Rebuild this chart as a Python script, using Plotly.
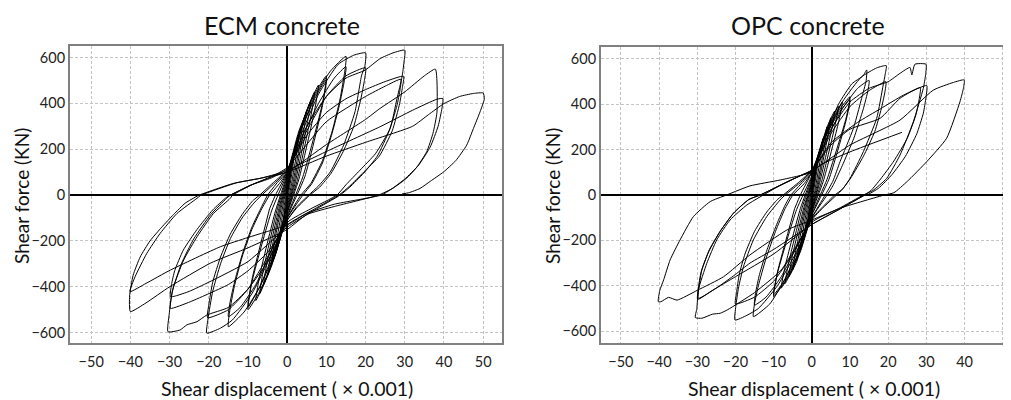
import plotly.graph_objects as go

# ---------------- ECM concrete (shear displacement x0.001, shear force kN) ----------------
ecm_small_x = [0, 0.5, 1, 0.6, 0.1, -0.4, -1, -0.6, -0.1,
               0.5, 1.2, 2, 1.5, 0.4, 0, -0.7, -2, -1.5, -0.4,
               0, 1, 2, 3, 2.4, 0.8, 0, -1, -2, -3, -2.4, -0.8,
               0, 1.5, 3, 4, 3.3, 1.2, 0, -1.5, -3, -4, -3.3, -1.2,
               0, 2, 4, 5, 4.2, 1.6, 0, -2, -4, -5, -4.2, -1.6,
               0, 2, 4, 6, 5.1, 2, 0, -2, -4, -6, -5.1, -2,
               0, 2.5, 5, 7, 6, 2.5, 0, -2.5, -5, -7, -6, -2.5,
               0, 3, 6, 8, 7, 3, 0, -3, -6, -8, -7, -3,
               0, 3, 7, 10, 9, 4, 0, -3, -7, -10, -9, -4,
               0, 3, 7, 10, 9, 4.5, 0, -3, -7, -10, -9, -4.5]
ecm_small_y = [0, 60, 120, 60, 0, -50, -110, -55, 0,
               50, 120, 200, 130, 10, -30, -90, -190, -120, -10,
               30, 110, 190, 260, 180, 20, -40, -110, -180, -250, -170, -20,
               40, 150, 250, 320, 230, 30, -50, -140, -230, -300, -210, -30,
               50, 190, 310, 370, 280, 40, -60, -180, -290, -350, -260, -40,
               60, 200, 320, 410, 310, 50, -70, -200, -310, -390, -290, -50,
               70, 240, 370, 450, 340, 60, -75, -230, -350, -430, -320, -60,
               80, 270, 410, 480, 370, 70, -80, -260, -390, -460, -350, -70,
               90, 280, 440, 520, 400, 80, -90, -260, -420, -500, -380, -70,
               95, 260, 420, 505, 390, 80, -95, -250, -400, -490, -370, -60]

ecm_15a_x = [-4.5, -3, 0, 3, 7, 11, 15, 14.7, 13.5, 11.5, 9, 6, 3.5, 0, -3, -7, -11, -15, -14.7, -13.5, -11.5, -9, -6.5, -4.5]
ecm_15a_y = [-60, 0, 100, 260, 430, 540, 605, 540, 420, 280, 150, 50, 0, -100, -230, -400, -510, -574, -510, -400, -270, -150, -60, 0]

ecm_15b_x = [-4.5, -2, 0, 4, 8, 12, 15, 14.6, 13.3, 11.3, 9, 6.3, 4, 0, -4, -8, -12, -15, -14.6, -13.3, -11.3, -9, -6.5, -5]
ecm_15b_y = [0, 50, 100, 260, 400, 510, 560, 500, 390, 260, 140, 50, 0, -100, -240, -390, -490, -530, -470, -370, -250, -140, -50, 0]

ecm_20a_x = [-5, -2.5, 0, 3, 8, 13, 17, 20, 19.8, 19, 17.3, 14.4, 11, 8, 5.5, 2.5, 0, -4, -9, -14, -17, -20.5, -20.2, -19, -17, -14.5, -11.5, -8.5, -6.5]
ecm_20a_y = [0, 55, 100, 240, 440, 570, 610, 620, 560, 523, 363, 218, 101, 40, 0, -50, -110, -260, -430, -545, -580, -602, -540, -420, -300, -190, -100, -35, 0]

ecm_20b_x = [-6.5, -3, 0, 5, 10, 15, 20, 19.7, 18.8, 17, 14.3, 11.2, 8.3, 5.8, 2.5, 0, -5, -10, -15, -20.3, -20, -19, -17, -14.5, -11.5, -8.8, -7]
ecm_20b_y = [0, 55, 105, 280, 430, 520, 555, 500, 420, 300, 190, 95, 35, 0, -55, -110, -270, -410, -500, -535, -480, -380, -270, -170, -85, -25, 0]

ecm_30a_x = [-7, -3.5, 0, 5, 10, 15, 19.9, 23.7, 27, 30, 29.8, 29.3, 28, 26.3, 22.5, 18.6, 15, 12.7, 6, 0, -5, -10, -15, -20.5, -23, -25.6, -27.3, -30.4, -30.1, -29.3, -27, -23.8, -19.5, -15.5, -14.5]
ecm_30a_y = [0, 55, 110, 300, 430, 510, 545, 595, 620, 632, 580, 515, 420, 292, 180, 109, 45, 0, -60, -120, -290, -410, -490, -523, -552, -566, -588, -596, -520, -420, -300, -190, -85, -15, 0]

ecm_30b_x = [-14.5, -9.4, -4, 0, 5, 10, 15, 20, 25, 29.7, 29.4, 28.7, 26.8, 23.5, 19.5, 16, 13.2, 7, 0, -5, -10, -15, -20, -24.7, -29.8, -29.6, -29, -26.4, -23, -18.8, -14.5, -14]
ecm_30b_y = [0, 43, 75, 115, 260, 360, 420, 460, 495, 518, 470, 400, 280, 170, 100, 40, 0, -60, -130, -250, -330, -390, -430, -465, -494, -450, -400, -283, -182, -80, -14, 0]

ecm_30c_x = [-14, -9, -4, 0, 10, 20, 25, 29, 28.8, 28, 26, 23, 19.5, 16, 13.5, 7, 0, -10, -20, -25, -28.5, -29.8, -29.5, -28.7, -26.5, -23, -19, -15.5, -14.5]
ecm_30c_y = [0, 45, 80, 120, 320, 430, 475, 505, 460, 390, 280, 170, 95, 35, 0, -65, -140, -290, -380, -420, -440, -443, -390, -330, -240, -150, -65, -10, 0]

ecm_40a_x = [-14.5, -9, -4, 0, 10, 20, 23.7, 30, 35, 37.8, 38.2, 37.2, 35.6, 33, 30.5, 27, 23.3, 12, 5, 0, -10, -19.6, -30, -36, -40, -40.2, -39.3, -37.5, -35, -32, -29, -26, -22.5]
ecm_40a_y = [0, 45, 80, 100, 220, 330, 378, 450, 520, 549, 360, 270, 189, 120, 74, 30, 0, -50, -85, -150, -230, -297, -400, -470, -508, -440, -350, -270, -200, -140, -85, -35, 0]

ecm_40b_x = [-22.5, -13.7, -6.9, -1, 10, 23.7, 32, 38.2, 39.7, 39.5, 38.5, 36.5, 33.5, 30, 26.5, 24, 12, 5, 0, -10, -17, -29.8, -36, -40.1, -38.8, -35.8, -32.4, -28.1, -23, -22]
ecm_40b_y = [0, 51, 73, 101, 190, 298, 370, 418, 421, 380, 300, 210, 130, 70, 25, 0, -40, -80, -130, -185, -225, -327, -385, -421, -356, -254, -167, -80, -14, 0]

ecm_50_x = [-22, -13, -6, 0, 10, 20, 32, 36, 40, 44, 47.5, 50, 50.3, 49.2, 47.5, 45.8, 43, 39.9, 36.5, 33.9, 31, 29.3]
ecm_50_y = [0, 53, 76, 100, 170, 230, 300, 350, 399, 430, 443, 445, 420, 363, 290, 218, 150, 101, 60, 29, 10, 5]

# ---------------- OPC concrete ----------------
opc_small_x = list(ecm_small_x)
opc_small_y = [0, 55, 110, 55, 0, -45, -100, -50, 0,
               45, 115, 190, 125, 10, -30, -85, -180, -115, -10,
               30, 105, 180, 250, 175, 20, -40, -105, -175, -240, -165, -20,
               40, 140, 235, 300, 215, 30, -50, -135, -220, -290, -205, -30,
               50, 180, 290, 340, 260, 40, -60, -170, -275, -330, -245, -40,
               55, 190, 300, 370, 280, 50, -65, -190, -295, -360, -270, -50,
               60, 220, 330, 390, 300, 55, -70, -215, -325, -390, -295, -55,
               70, 240, 350, 410, 320, 60, -75, -240, -355, -410, -315, -60,
               80, 250, 370, 433, 340, 70, -85, -250, -380, -448, -345, -65,
               85, 240, 360, 420, 330, 70, -90, -240, -370, -440, -340, -60]

opc_15a_x = [-4.5, -3, 0, 3, 7, 10.5, 13.4, 14.4, 14.2, 13.5, 10.9, 7.4, 5.5, 3.5, 0, -3, -7, -11, -15.3, -15, -14, -12, -9.5, -7, -5]
opc_15a_y = [-60, 0, 100, 240, 400, 490, 525, 551, 500, 455, 294, 147, 60, 0, -100, -220, -370, -480, -536, -480, -400, -280, -160, -60, 0]

opc_15b_x = [-5, -2, 0, 4, 8, 12, 15, 14.7, 13.5, 11, 8, 5.5, 4, 0, -4, -8, -12, -15, -14.7, -13.7, -11.7, -9.2, -7, -5.5]
opc_15b_y = [0, 50, 100, 250, 380, 470, 505, 460, 380, 250, 130, 40, 0, -100, -230, -360, -450, -485, -430, -350, -240, -130, -45, 0]

opc_20a_x = [-5.5, -2.5, 0, 3, 8, 13, 17, 19.5, 19.2, 18.7, 17, 13.5, 10, 8, 6, 3, 0, -4, -9, -14, -17, -20.1, -19.9, -19.2, -17.9, -15.3, -11.8, -8.3, -7]
opc_20a_y = [0, 55, 100, 230, 410, 520, 560, 570, 530, 485, 338, 191, 73, 25, 0, -50, -105, -250, -400, -500, -530, -551, -490, -410, -316, -198, -95, -22, 0]

opc_20b_x = [-7, -3, 0, 5, 10, 15, 19.4, 19.1, 18.2, 16.5, 13.5, 10.2, 8, 6.5, 3, 0, -5, -10, -15, -20, -19.7, -19, -17.5, -15, -11.8, -9, -7.5]
opc_20b_y = [0, 55, 105, 270, 390, 460, 499, 450, 380, 280, 170, 75, 25, 0, -55, -110, -260, -380, -450, -480, -430, -350, -260, -160, -75, -20, 0]

opc_30a_x = [-7.5, -3.5, 0, 5, 10, 15, 20, 23.1, 25.7, 26.2, 27, 29.9, 29.8, 29.2, 26.6, 23.1, 19.6, 16, 13.5, 7, 0, -8, -15, -22, -24, -26, -28.8, -30.5, -30.1, -29.7, -27.5, -24.9, -21.4, -17, -12.7]
opc_30a_y = [0, 55, 110, 290, 410, 470, 499, 536, 562, 529, 576, 576, 530, 470, 323, 176, 73, 20, 0, -60, -120, -330, -430, -505, -521, -525, -543, -540, -500, -418, -301, -198, -110, -44, 0]

opc_30b_x = [-12.7, -8, -3, 0, 5, 10, 17.9, 23.1, 28.4, 28.1, 27.2, 25, 21.5, 18, 15.5, 13.8, 7, 0, -10, -16.2, -20, -25, -29.7, -29.5, -28.8, -26.8, -24, -20.5, -16.5, -13.5]
opc_30b_y = [0, 45, 85, 110, 220, 290, 338, 426, 473, 420, 350, 250, 150, 70, 20, 0, -65, -130, -240, -300, -350, -410, -455, -400, -330, -240, -160, -80, -20, 0]

opc_30c_x = [-13.5, -8, -3, 0, 5, 12, 18, 24, 30.1, 29.9, 29.2, 27.5, 24.5, 21, 17.5, 15, 14, 7, 0, -10, -20, -26, -29.9, -29.7, -29, -27, -24, -20.5, -16.5, -13.5]
opc_30c_y = [0, 45, 85, 110, 230, 320, 380, 440, 482, 430, 360, 270, 170, 90, 30, 5, 0, -65, -130, -260, -360, -420, -460, -410, -340, -250, -160, -80, -20, 0]

opc_40_x = [-13.5, -8, -3, 0, 10, 23.1, 31.8, 37.1, 39.9, 39.7, 38.8, 35.3, 30.1, 25, 21.5, 19, 8, 0, -6.5, -16.2, -23.1, -30, -35.3, -37.5, -39.5, -40.2, -39.8, -38.8, -37.1, -34.5, -31, -26.6, -22.3]
opc_40_y = [0, 45, 85, 105, 220, 330, 462, 496, 507, 470, 411, 250, 147, 60, 10, 0, -55, -110, -154, -264, -360, -420, -463, -451, -470, -470, -420, -374, -286, -198, -95, -29, 0]

opc_end_x = [-22.3, -16.2, -8.3, 0, 2.2, 10, 23.6]
opc_end_y = [0, 40, 66, 100, 132, 190, 276]

x_ticks = [-50, -40, -30, -20, -10, 0, 10, 20, 30, 40, 50]
y_ticks = [-600, -400, -200, 0, 200, 400, 600]

panel_titles = ["ECM concrete", "OPC concrete"]
x_title = "Shear displacement ( \u00d7 0.001)"
y_title = "Shear force (KN)"

ecm_series = [(ecm_small_x, ecm_small_y), (ecm_15a_x, ecm_15a_y), (ecm_15b_x, ecm_15b_y),
              (ecm_20a_x, ecm_20a_y), (ecm_20b_x, ecm_20b_y), (ecm_30a_x, ecm_30a_y),
              (ecm_30b_x, ecm_30b_y), (ecm_30c_x, ecm_30c_y), (ecm_40a_x, ecm_40a_y),
              (ecm_40b_x, ecm_40b_y), (ecm_50_x, ecm_50_y)]
opc_series = [(opc_small_x, opc_small_y), (opc_15a_x, opc_15a_y), (opc_15b_x, opc_15b_y),
              (opc_20a_x, opc_20a_y), (opc_20b_x, opc_20b_y), (opc_30a_x, opc_30a_y),
              (opc_30b_x, opc_30b_y), (opc_30c_x, opc_30c_y), (opc_40_x, opc_40_y),
              (opc_end_x, opc_end_y)]

FONT = "Lato"
fig = go.Figure()
for sx, sy in ecm_series:
    fig.add_trace(go.Scatter(x=sx, y=sy, mode="lines", xaxis="x", yaxis="y",
                             line=dict(color="black", width=1, shape="spline", smoothing=0.5),
                             showlegend=False, hoverinfo="skip"))
for sx, sy in opc_series:
    fig.add_trace(go.Scatter(x=sx, y=sy, mode="lines", xaxis="x2", yaxis="y2",
                             line=dict(color="black", width=1, shape="spline", smoothing=0.5),
                             showlegend=False, hoverinfo="skip"))

# page body has an 8px default margin: figure is sized to fill the rest of the 1011x400 window
OFF = 8
W, H = 1011 - OFF, 400 - OFF
def fx(px):
    return (px - OFF) / W
def fy(py):
    return 1 - (py - OFF) / H

def ax_common():
    return dict(showline=True, linecolor="#808080", linewidth=2, mirror=True,
                showgrid=True, gridcolor="#c4c4c4", gridwidth=1, griddash="3px,2px",
                zeroline=True, zerolinecolor="black", zerolinewidth=2,
                ticks="", tickfont=dict(family=FONT, size=14.5, color="#222"),
                fixedrange=True)

fig.update_layout(
    width=W, height=H, margin=dict(l=0, r=0, t=0, b=0),
    paper_bgcolor="white", plot_bgcolor="white",
    font=dict(family=FONT, color="#111"),
    xaxis=dict(domain=[fx(70), fx(502)], range=[-55.4, 54.8], tickvals=x_ticks, anchor="y",
               ticklabelstandoff=5, **ax_common()),
    yaxis=dict(domain=[fy(343), fy(46)], range=[-645, 650], tickvals=y_ticks, anchor="x",
               ticklabelstandoff=0, **ax_common()),
    xaxis2=dict(domain=[fx(601), fx(1010)], range=[-55.2, 51.9], tickvals=x_ticks, anchor="y2",
                ticklabelstandoff=5, **ax_common()),
    yaxis2=dict(domain=[fy(343), fy(47)], range=[-652, 652], tickvals=y_ticks, anchor="x2",
                ticklabelstandoff=0, **ax_common()),
)

ann = []
for cx, title, ylx, xlx in [(282, panel_titles[0], 21, 287), (808, panel_titles[1], 552, 814)]:
    ann.append(dict(x=fx(cx), y=1, xref="paper", yref="paper", text=title, showarrow=False,
                    font=dict(family=FONT, size=25, color="#111"), xanchor="center", yanchor="top"))
    ann.append(dict(x=fx(ylx), y=fy(196), xref="paper", yref="paper", text=y_title, showarrow=False,
                    textangle=-90, font=dict(family=FONT, size=19, color="#111"),
                    xanchor="center", yanchor="middle"))
    ann.append(dict(x=fx(xlx), y=fy(388), xref="paper", yref="paper", text=x_title, showarrow=False,
                    font=dict(family=FONT, size=19.5, color="#111"), xanchor="center", yanchor="middle"))
fig.update_layout(annotations=ann)

fig.write_html("out.html")
